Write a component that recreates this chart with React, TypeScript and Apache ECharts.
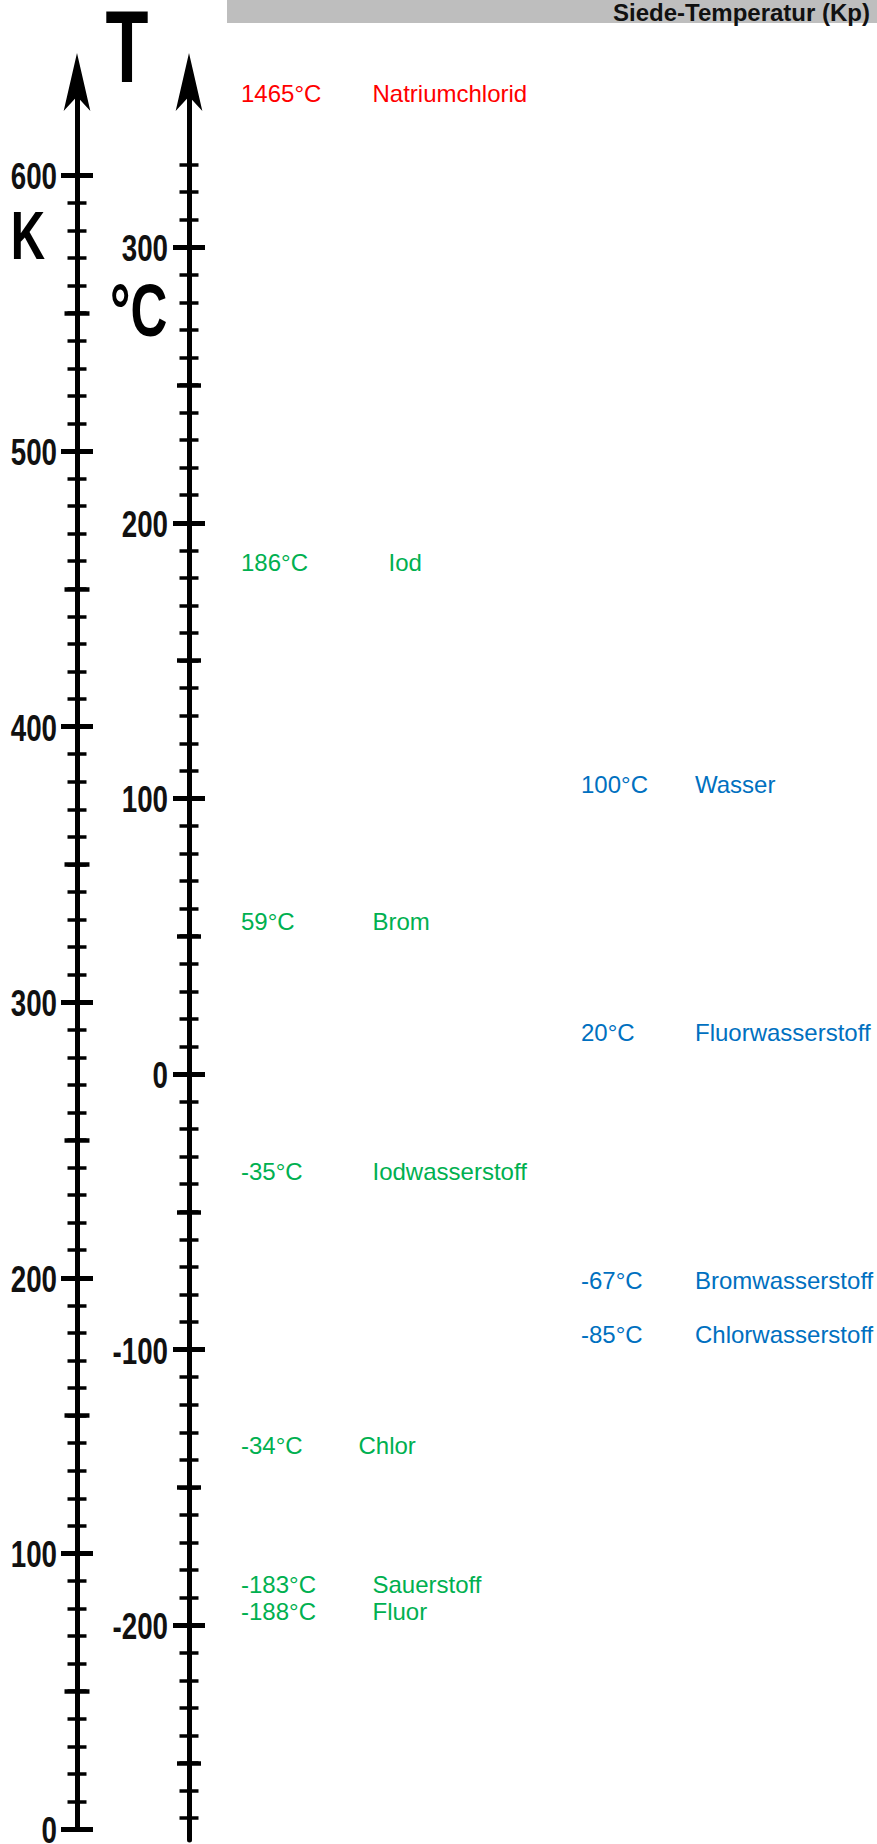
import React, { useEffect, useRef } from 'react';
import * as echarts from 'echarts';

// ---- Axis ranges, tick steps and tick labels ----
const kelvinRange = [0, 600];
const celsiusMinorRange = [-270, 330];
const celsiusMidRange = [-250, 300];
const celsiusLabelRange = [-200, 300];
const majorStep = 100;
const midStep = 50;
const minorStep = 10;
const kelvinTickLabels = [0, 100, 200, 300, 400, 500, 600];
const celsiusTickLabels = [-200, -100, 0, 100, 200, 300];

// ---- Substances (boiling points) ----
const columns = ['links', 'rechts'];

const saltNames = ['Natriumchlorid'];
const saltTemps = ['1465°C'];
const saltPlacedAt = [355.6];

const leftNames = ['Iod', 'Brom', 'Iodwasserstoff', 'Chlor', 'Sauerstoff', 'Fluor'];
const leftTemps = ['186°C', '59°C', '-35°C', '-34°C', '-183°C', '-188°C'];
const leftPlacedAt = [185.6, 55.4, -35.2, -134.9, -185.4, -195.2];

const rightNames = ['Wasser', 'Fluorwasserstoff', 'Bromwasserstoff', 'Chlorwasserstoff'];
const rightTemps = ['100°C', '20°C', '-67°C', '-85°C'];
const rightPlacedAt = [105.2, 15.2, -74.8, -94.7];

// ---- Layout ----
const PX = 2.756; // pixels per degree
const K_ZERO_Y = 1829;
const C_ZERO_Y = 1074;
const K_AXIS_X = 77;
const C_AXIS_X = 189;
const ARROW_END_Y = 80;
const C_LINE_BOTTOM_Y = 1840;

const SANS = '"Liberation Sans", Arial, Helvetica, sans-serif';

function buildOption() {
  const grids: any[] = [];
  const xAxes: any[] = [];
  const yAxes: any[] = [];

  const addGrid = (zeroY: number, min: number, max: number, left: number, width = 20) => {
    grids.push({
      left,
      width,
      top: zeroY - max * PX,
      height: (max - min) * PX,
      containLabel: false,
      outerBoundsMode: 'none',
    });
    const gi = grids.length - 1;
    xAxes.push({ gridIndex: gi, type: 'value', min: 0, max: 1, show: false });
    return gi;
  };

  const tickAxis = (gi: number, min: number, max: number, step: number, half: number, width: number) => {
    yAxes.push({
      gridIndex: gi,
      type: 'value',
      position: 'left',
      offset: half,
      min,
      max,
      interval: step,
      axisLine: { show: false, onZero: false },
      axisTick: { show: true, inside: true, length: half * 2, lineStyle: { color: '#000', width } },
      minorTick: { show: false },
      splitLine: { show: false },
      axisLabel: { show: false },
    });
    return yAxes.length - 1;
  };

  const lineAxis = (gi: number, min: number, max: number) => {
    yAxes.push({
      gridIndex: gi,
      type: 'value',
      position: 'left',
      offset: 0,
      min,
      max,
      axisLine: {
        show: true,
        onZero: false,
        symbol: ['none', 'arrow'],
        symbolSize: [20, 58],
        symbolOffset: [0, 27],
        lineStyle: { color: '#000', width: 5 },
      },
      axisTick: { show: false },
      axisLabel: { show: false },
      splitLine: { show: false },
    });
  };

  // Kelvin scale
  const gK = addGrid(K_ZERO_Y, kelvinRange[0], kelvinRange[1], K_AXIS_X);
  tickAxis(gK, kelvinRange[0], kelvinRange[1], minorStep, 9.5, 3.5);
  tickAxis(gK, kelvinRange[0], kelvinRange[1], midStep, 12.5, 4.5);
  const kMajor = tickAxis(gK, kelvinRange[0], kelvinRange[1], majorStep, 16, 5);
  const kLineMax = (K_ZERO_Y - ARROW_END_Y) / PX;
  const gKLine = addGrid(K_ZERO_Y, kelvinRange[0], kLineMax, K_AXIS_X);
  lineAxis(gKLine, kelvinRange[0], kLineMax);

  // Celsius scale
  const gCMinor = addGrid(C_ZERO_Y, celsiusMinorRange[0], celsiusMinorRange[1], C_AXIS_X);
  tickAxis(gCMinor, celsiusMinorRange[0], celsiusMinorRange[1], minorStep, 9.5, 3.5);
  const gCMid = addGrid(C_ZERO_Y, celsiusMidRange[0], celsiusMidRange[1], C_AXIS_X);
  tickAxis(gCMid, celsiusMidRange[0], celsiusMidRange[1], midStep, 12, 4.5);
  const gCMajor = addGrid(C_ZERO_Y, celsiusLabelRange[0], celsiusLabelRange[1], C_AXIS_X);
  const cMajor = tickAxis(gCMajor, celsiusLabelRange[0], celsiusLabelRange[1], majorStep, 16, 5);
  const cLineMin = -(C_LINE_BOTTOM_Y - C_ZERO_Y) / PX;
  const cLineMax = (C_ZERO_Y - ARROW_END_Y) / PX;
  const gCLine = addGrid(C_ZERO_Y, cLineMin, cLineMax, C_AXIS_X);
  lineAxis(gCLine, cLineMin, cLineMax);

  // Label grid (columns of text placed at a temperature)
  const labelMin = -270;
  const labelMax = 360;
  grids.push({
    left: 70.5,
    width: 680,
    top: C_ZERO_Y - labelMax * PX,
    height: (labelMax - labelMin) * PX,
    containLabel: false,
    outerBoundsMode: 'none',
  });
  const gL = grids.length - 1;
  xAxes.push({ gridIndex: gL, type: 'category', data: columns, show: false });
  const xL = xAxes.length - 1;
  yAxes.push({
    gridIndex: gL,
    type: 'value',
    min: labelMin,
    max: labelMax,
    show: false,
    splitLine: { show: false },
    axisLine: { onZero: false },
  });
  const yL = yAxes.length - 1;

  const specialToken: Record<string, string> = { Iod: 'vWide', Chlor: 'vNarrow' };

  const labelSeries = (
    name: string,
    names: string[],
    temps: string[],
    placed: number[],
    col: string,
    color: string,
    vWidth: number
  ) => ({
    type: 'scatter',
    name,
    xAxisIndex: xL,
    yAxisIndex: yL,
    symbolSize: 1,
    itemStyle: { color: 'rgba(0,0,0,0)' },
    silent: true,
    data: names.map((n, i) => ({ name: n, value: [col, placed[i]], temp: temps[i] })),
    label: {
      show: true,
      position: 'right',
      distance: 0,
      opacity: 1,
      formatter: (p: any) => `{${specialToken[p.name] || 'v'}|${p.data.temp}}{n|${p.name}}`,
      rich: {
        v: { width: vWidth, fontSize: 24, fontFamily: SANS, color },
        vWide: { width: vWidth + 16, fontSize: 24, fontFamily: SANS, color },
        vNarrow: { width: vWidth - 14, fontSize: 24, fontFamily: SANS, color },
        n: { fontSize: 24, fontFamily: SANS, color },
      },
    },
  });

  const baseGraphic: any[] = [
    { id: 'bar', type: 'rect', x: 227, y: 0, shape: { x: 0, y: 0, width: 650, height: 23 }, style: { fill: '#bebebe' } },
    {
      id: 'T',
      type: 'text',
      x: 105.5,
      y: 47.5,
      scaleX: 0.69,
      style: { text: 'T', font: `bold 102px ${SANS}`, fill: '#000', textAlign: 'left', textVerticalAlign: 'middle' },
    },
    {
      id: 'K',
      type: 'text',
      x: 10.8,
      y: 235,
      scaleX: 0.7,
      style: { text: 'K', font: `bold 68px ${SANS}`, fill: '#000', textAlign: 'left', textVerticalAlign: 'middle' },
    },
    {
      id: 'C',
      type: 'text',
      x: 110,
      y: 310,
      scaleX: 0.69,
      style: { text: '°C', font: `bold 74px ${SANS}`, fill: '#000', textAlign: 'left', textVerticalAlign: 'middle' },
    },
  ];

  const option = {
    animation: false,
    backgroundColor: '#ffffff',
    title: {
      text: 'Siede-Temperatur (Kp)',
      right: 7,
      top: 0,
      padding: 0,
      textStyle: { fontFamily: SANS, fontSize: 24, fontWeight: 'bold', color: '#111', lineHeight: 24 },
    },
    graphic: baseGraphic,
    grid: grids,
    xAxis: xAxes,
    yAxis: yAxes,
    series: [
      labelSeries('Salz', saltNames, saltTemps, saltPlacedAt, columns[0], '#ff0000', 131.5),
      labelSeries('Links', leftNames, leftTemps, leftPlacedAt, columns[0], '#00b050', 131.5),
      labelSeries('Rechts', rightNames, rightTemps, rightPlacedAt, columns[1], '#0070c0', 114),
    ],
  };
  return { option, baseGraphic, kMajor, cMajor };
}

export default function App() {
  const ref = useRef<HTMLDivElement>(null);
  useEffect(() => {
    const chart = echarts.init(ref.current!, null, { renderer: 'svg' });
    const { option, baseGraphic, kMajor, cMajor } = buildOption();
    chart.setOption(option as any);

    // Tick labels in a tall condensed face, placed through the axes' own scales
    const tickText = (id: string, axisIndex: number, axisX: number, gap: number, v: number) => {
      const y = chart.convertToPixel({ yAxisIndex: axisIndex } as any, v) as unknown as number;
      return {
        id,
        type: 'text',
        x: axisX - gap,
        y: y + 1,
        scaleX: 0.75,
        style: {
          text: String(v),
          font: `bold 37px ${SANS}`,
          fill: '#111',
          textAlign: 'right',
          textVerticalAlign: 'middle',
        },
      };
    };
    const labels = [
      ...kelvinTickLabels.map((v) => tickText('k' + v, kMajor, K_AXIS_X, 20, v)),
      ...celsiusTickLabels.map((v) => tickText('c' + v, cMajor, C_AXIS_X, 21, v)),
    ];
    chart.setOption({ graphic: [...baseGraphic, ...labels] } as any);
    return () => chart.dispose();
  }, []);
  return (
    <div
      ref={ref}
      style={{ position: 'absolute', left: 0, top: 0, width: 877, height: 1844, background: '#fff' }}
    />
  );
}
